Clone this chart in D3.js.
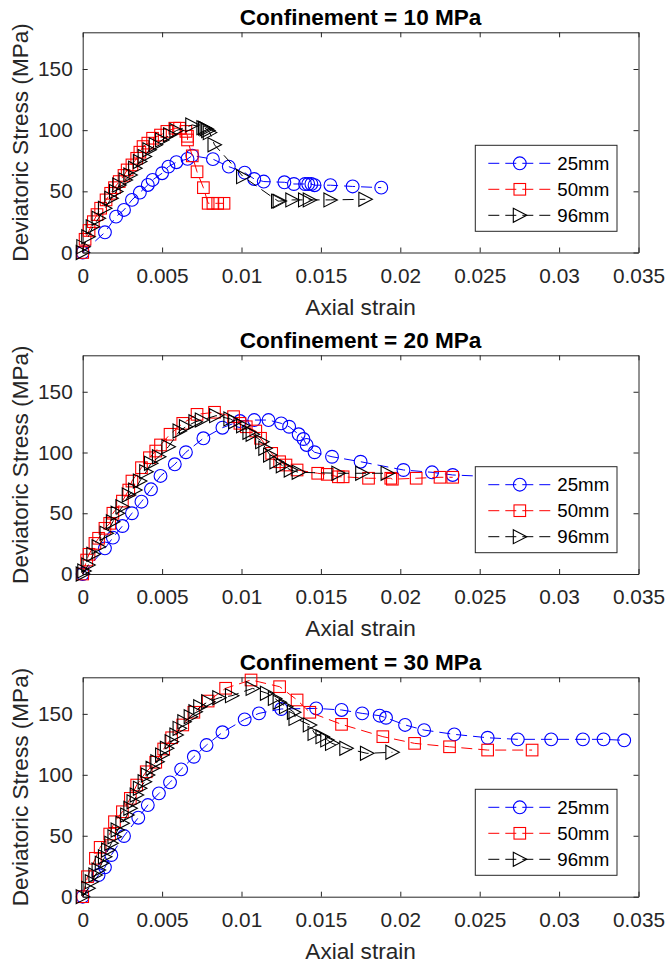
<!DOCTYPE html>
<html>
<head>
<meta charset="utf-8">
<script src="https://cdn.jsdelivr.net/npm/d3@7"></script>
<style>
  body { margin: 0; background: #fff; }
  text { font-family: "Liberation Sans", Arial, Helvetica, sans-serif; }
</style>
</head>
<body>
<svg id="chart"></svg>
<script>
// ---- data ----
const confinements = [10, 20, 30];
const sizes = ["25mm", "50mm", "96mm"];
const xTicks = [0, 0.005, 0.01, 0.015, 0.02, 0.025, 0.03, 0.035];
const xTickLabels = ["0", "0.005", "0.01", "0.015", "0.02", "0.025", "0.03", "0.035"];
const yTicks = [0, 50, 100, 150];

// confinement 10 MPa
const strain10_25 = [0,0.0014,0.0021,0.0026,0.0031,0.0036,0.0041,0.0044,0.005,0.0054,0.0059,0.0066,0.0069,0.0082,0.0092,0.0102,0.0108,0.0114,0.0127,0.0133,0.014,0.0142,0.0144,0.0146,0.0156,0.017,0.0188];
const stress10_25 = [0,16.5,29.3,34.8,43,49,55.2,59.3,64.8,70.2,73.8,76.5,79.2,76.3,70.2,65.3,60.1,58,57.4,56,56,56,56,55,55,54,53];
const strain10_50 = [0,0.00015,0.0004,0.00067,0.0009,0.00113,0.00147,0.00176,0.002,0.0023,0.0026,0.0028,0.0031,0.0034,0.0036,0.0038,0.0041,0.0044,0.0049,0.0053,0.0058,0.0061,0.0065,0.0066,0.0066,0.0069,0.0072,0.0076,0.0079,0.0082,0.0085,0.0089];
const stress10_50 = [0,10.8,18,25.2,31,36.2,43,48.4,53,58,63,67.5,71.6,77,82,86.6,89.4,93.4,96,99,101.6,101.6,99,95,92,79,66,53,40.2,40.2,40.2,40.2];
const strain10_96 = [0,0.00004,0.00035,0.00063,0.001,0.0014,0.0018,0.0021,0.0023,0.0027,0.003,0.0033,0.0036,0.0039,0.0042,0.0046,0.005,0.0055,0.0059,0.0069,0.0076,0.0077,0.0078,0.0079,0.008,0.0083,0.0101,0.0123,0.0124,0.0132,0.014,0.0143,0.0156,0.0178];
const stress10_96 = [0,4.8,12.9,21,28,36.1,44.3,49.8,55.2,59.3,63.4,68.9,74.3,78.4,83.9,88,92,96.2,99.7,104.3,102,101.6,101,99.7,98,88,62,42,42,43,43,43,43,43.5];

// confinement 20 MPa
const strain20_25 = [0,0.0014,0.0019,0.0025,0.0031,0.0037,0.0043,0.0049,0.0058,0.0065,0.0076,0.0088,0.0099,0.0108,0.0117,0.0125,0.013,0.0136,0.0139,0.0141,0.0146,0.0157,0.0175,0.0202,0.022,0.0233,0.026];
const stress20_25 = [0,21.1,29.9,39.5,50,59.5,69.7,80.7,90.3,100.2,111.7,120.4,125.9,126.7,126.7,124,121.2,115,111.1,106.2,100.2,96.5,92.4,85.6,83.7,81.5,80];
const strain20_50 = [0,0.00025,0.0004,0.00077,0.001,0.0014,0.0017,0.0019,0.0025,0.0029,0.0031,0.0037,0.0042,0.0046,0.0049,0.0055,0.0063,0.0072,0.0083,0.0095,0.0099,0.0103,0.0109,0.0112,0.0119,0.0124,0.0128,0.0135,0.0148,0.0154,0.0161,0.0164,0.018,0.0194,0.0195,0.021,0.0225,0.0233];
const stress20_50 = [0,11.5,16.2,25.2,29.4,37.6,41.7,50,60,69.1,76.5,87.5,95.7,101.2,106.2,115,124,131.4,133.1,129.5,124,121.2,117.7,111.7,99.3,92.4,89.7,85.6,82.9,82,80,80,78.8,78.8,78,78.8,79.6,79.6];
const strain20_96 = [0,0.0001,0.00035,0.00067,0.001,0.0015,0.0019,0.0022,0.0025,0.0029,0.0033,0.0036,0.004,0.0043,0.0048,0.0054,0.0061,0.0065,0.0071,0.0075,0.0084,0.0093,0.0096,0.0101,0.0105,0.0107,0.0113,0.0115,0.0118,0.0122,0.0126,0.0131,0.0136,0.0161,0.0176,0.0192];
const stress20_96 = [0,2.5,7.4,16.2,22.5,33.5,43,50,55.4,65,69.1,76.5,84.2,91.1,96.5,104.8,117.7,121.2,125.3,126.7,130.3,127.6,125.3,122,116.6,115,108.9,103.5,97.9,92.4,89.1,85.6,83.7,82.9,82.9,82.9];

// confinement 30 MPa
const strain30_25 = [0,0.001,0.0014,0.0018,0.0026,0.0035,0.0041,0.0048,0.0055,0.0062,0.007,0.0078,0.0088,0.0102,0.0111,0.0125,0.0147,0.0163,0.0176,0.0187,0.0191,0.0203,0.0215,0.0234,0.0255,0.0274,0.0295,0.0315,0.0328,0.0341];
const stress30_25 = [0,17.8,24.1,34.2,49.8,64.8,75.2,84.8,93.8,104.5,114.8,124.4,134.9,145.5,150.4,154,154.5,153.2,150.4,148.5,146.8,140.9,136.7,133.2,130.4,129.1,129.1,129.1,129.1,128.3];
const strain30_50 = [0,0.0003,0.0008,0.0011,0.0017,0.002,0.0025,0.003,0.0034,0.004,0.0046,0.0051,0.0056,0.0063,0.007,0.0079,0.009,0.0106,0.0124,0.0135,0.0143,0.0163,0.0189,0.0209,0.0231,0.0255,0.0283];
const stress30_50 = [0,16.4,31.5,40.5,51.4,61.5,69.7,80.7,91.6,102.5,110.3,121.2,130.4,140.9,151.3,160.5,171,177.8,172.3,161.4,151.3,141.4,131.3,125.8,123,120.3,120.3];
const strain30_96 = [0,0.00035,0.00057,0.0008,0.001,0.0012,0.0014,0.0016,0.0018,0.002,0.0022,0.0025,0.0028,0.003,0.0032,0.0034,0.0036,0.0039,0.0041,0.0044,0.0047,0.005,0.0053,0.0056,0.0059,0.0061,0.0064,0.0068,0.0071,0.0074,0.0079,0.0086,0.0094,0.0107,0.0116,0.0121,0.0124,0.0128,0.0133,0.0134,0.0143,0.0146,0.0151,0.0154,0.0157,0.0166,0.0179,0.0195];
const stress30_96 = [0,6.9,12.3,17.8,21.9,27.4,32.8,38.3,43.8,49.2,54.7,60.2,67,72.5,77.9,83.4,88.9,94.3,99.8,105.3,110.7,116.2,121.7,127.2,132.6,138.1,143.6,147.7,151.8,155.9,160,163.2,164.9,170.9,166.9,162.7,159.5,155.9,151.3,146.3,140.9,134,131.3,128.6,125.8,121.7,117.6,118.5];

const panelData = [
  [[strain10_25, stress10_25], [strain10_50, stress10_50], [strain10_96, stress10_96]],
  [[strain20_25, stress20_25], [strain20_50, stress20_50], [strain20_96, stress20_96]],
  [[strain30_25, stress30_25], [strain30_50, stress30_50], [strain30_96, stress30_96]]
];

// ---- layout / style ----
const W = 667, H = 966;
const axisColor = "#262626";
const colors = ["#0000ff", "#ff0000", "#000000"];
const markers = ["circle", "square", "triangle"];
const dash = "11,6";
const xLeft = 82.7, xRight = 638.5;
const panels = [
  {top: 32.3, bottom: 252.5},
  {top: 355.3, bottom: 574},
  {top: 677.3, bottom: 896.7}
];

const svg = d3.select("#chart").attr("width", W).attr("height", H);
svg.append("rect").attr("width", W).attr("height", H).attr("fill", "#fff");

const x = d3.scaleLinear().domain([0, 0.035]).range([xLeft, xRight]);

function drawMarker(g, type, color) {
  if (type === "circle") {
    g.append("circle").attr("r", 6.4).attr("fill", "none").attr("stroke", color).attr("stroke-width", 1.1);
  } else if (type === "square") {
    g.append("rect").attr("x", -5.8).attr("y", -5.8).attr("width", 11.6).attr("height", 11.6)
      .attr("fill", "none").attr("stroke", color).attr("stroke-width", 1.1);
  } else {
    g.append("path").attr("d", "M-6.5,-7L7,0L-6.5,7Z")
      .attr("fill", "none").attr("stroke", color).attr("stroke-width", 1.1);
  }
}

panels.forEach((p, pi) => {
  const y = d3.scaleLinear().domain([0, 180]).range([p.bottom, p.top]);
  const g = svg.append("g");

  // axes (MATLAB style: ticks inside, box on)
  const bottomAxis = d3.axisBottom(x).tickValues(xTicks)
    .tickFormat((d, i) => xTickLabels[i]).tickSizeInner(-5).tickSizeOuter(0).tickPadding(15.5);
  const topAxis = d3.axisTop(x).tickValues(xTicks).tickFormat("").tickSizeInner(-5).tickSizeOuter(0);
  const leftAxis = d3.axisLeft(y).tickValues(yTicks).tickSizeInner(-5).tickSizeOuter(0).tickPadding(10);
  const rightAxis = d3.axisRight(y).tickValues(yTicks).tickFormat("").tickSizeInner(-5).tickSizeOuter(0);

  const axes = [
    g.append("g").attr("transform", `translate(0,${p.bottom})`).call(bottomAxis),
    g.append("g").attr("transform", `translate(0,${p.top})`).call(topAxis),
    g.append("g").attr("transform", `translate(${xLeft},0)`).call(leftAxis),
    g.append("g").attr("transform", `translate(${xRight},0)`).call(rightAxis)
  ];
  axes.forEach(a => {
    a.selectAll("path,line").attr("stroke", axisColor).attr("stroke-width", 1);
    a.selectAll("text").attr("fill", axisColor).style("font-size", "20.8px");
  });

  // titles / labels
  g.append("text").attr("x", (xLeft + xRight) / 2).attr("y", p.top - 7.5)
    .attr("text-anchor", "middle").style("font-size", "22.6px").style("font-weight", "bold")
    .attr("fill", "#000").text(`Confinement = ${confinements[pi]} MPa`);
  g.append("text").attr("x", (xLeft + xRight) / 2).attr("y", p.bottom + 62)
    .attr("text-anchor", "middle").style("font-size", "22.6px").attr("fill", axisColor)
    .text("Axial strain");
  g.append("text")
    .attr("transform", `translate(27.5,${(p.top + p.bottom) / 2}) rotate(-90)`)
    .attr("text-anchor", "middle").style("font-size", "22.6px").attr("fill", axisColor)
    .text("Deviatoric Stress (MPa)");

  // series
  panelData[pi].forEach((s, si) => {
    const pts = s[0].map((v, i) => [v, s[1][i]]);
    const line = d3.line().x(d => x(d[0])).y(d => y(d[1]));
    g.append("path").datum(pts).attr("d", line).attr("fill", "none")
      .attr("stroke", colors[si]).attr("stroke-width", 1).attr("stroke-dasharray", dash);
    g.selectAll(null).data(pts).join("g")
      .attr("transform", d => `translate(${x(d[0])},${y(d[1])})`)
      .each(function () { drawMarker(d3.select(this), markers[si], colors[si]); });
  });

  // legend
  const lx = 475.3, lw = 141.7, lh = 86;
  const ly = p.top + (pi === 0 ? 113 : (pi === 1 ? 111.4 : 112));
  const leg = g.append("g").attr("transform", `translate(${lx},${ly})`);
  leg.append("rect").attr("width", lw).attr("height", lh).attr("fill", "#fff")
    .attr("stroke", axisColor).attr("stroke-width", 1);
  sizes.forEach((name, si) => {
    const ry = 18 + si * 26;
    leg.append("line").attr("x1", 13).attr("x2", 75).attr("y1", ry).attr("y2", ry)
      .attr("stroke", colors[si]).attr("stroke-width", 1).attr("stroke-dasharray", dash);
    drawMarker(leg.append("g").attr("transform", `translate(44.5,${ry})`), markers[si], colors[si]);
    leg.append("text").attr("x", 82).attr("y", ry).attr("dy", "0.35em")
      .style("font-size", "18.7px").attr("fill", "#000").text(name);
  });
});
</script>
</body>
</html>
